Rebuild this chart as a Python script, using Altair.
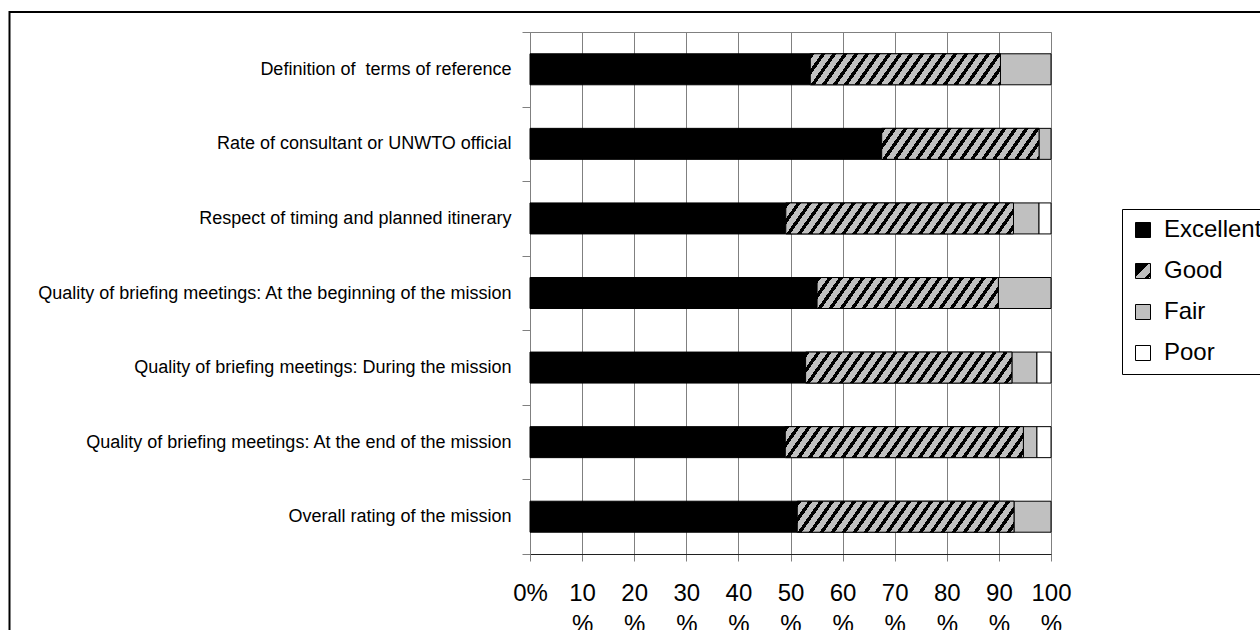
import altair as alt
import pandas as pd

# ---------------- data ----------------
categories = [
    "Definition of\u00a0 terms of reference",
    "Rate of consultant or UNWTO official",
    "Respect of timing and planned itinerary\u00a0",
    "Quality of briefing meetings: At the beginning of the mission",
    "Quality of briefing meetings: During the mission\u00a0",
    "Quality of briefing meetings: At the end of the mission",
    "Overall rating of the mission",
]
ratings = ["Excellent", "Good", "Fair", "Poor"]
excellent = [53.8, 67.5, 49.1, 55.1, 52.9, 49.0, 51.3]
good = [36.5, 30.2, 43.7, 34.8, 39.6, 45.7, 41.6]
fair = [9.7, 2.3, 4.9, 10.1, 4.8, 2.6, 7.1]
poor = [0.0, 0.0, 2.3, 0.0, 2.7, 2.7, 0.0]
x_ticks = [0, 10, 20, 30, 40, 50, 60, 70, 80, 90, 100]

rows = []
for i, c in enumerate(categories):
    for j, (r, vals) in enumerate(zip(ratings, [excellent, good, fair, poor])):
        rows.append({"category": c, "rating": r, "order": j, "value": vals[i]})
df = pd.DataFrame(rows)

# ---------------- layout / style ----------------
PLOT_W, PLOT_H = 521, 522
BAR_H = 31
FONT = "Liberation Sans"
DARK = "#000000"
LIGHT = "#c0c0c0"


def hatch_gradient(value, period=11.0, slope=0.7, dark_frac=0.38):
    """Diagonal '/' stripes as a hard-stop linear gradient (bbox units)."""
    w = value / 100.0 * PLOT_W
    h = BAR_H
    k = slope * h / w
    a = (1 + k) / (1 + k * k)
    b = a * k
    n = (w + slope * h) / period
    stops = []
    i = 0
    while i < n:
        o0 = min(i / n, 1.0)
        o1 = min((i + dark_frac) / n, 1.0)
        o2 = min((i + 1) / n, 1.0)
        stops += [
            {"offset": o0, "color": DARK},
            {"offset": o1, "color": DARK},
            {"offset": o1, "color": LIGHT},
            {"offset": o2, "color": LIGHT},
        ]
        i += 1
    return {"gradient": "linear", "x1": 0, "y1": 0, "x2": a, "y2": b, "stops": stops}


legend_good = {
    "expr": "{gradient: 'linear', x1: 0, y1: 0, x2: 1, y2: 1, stops: ["
    "{offset: 0, color: '#000000'}, {offset: 0.45, color: '#000000'},"
    "{offset: 0.45, color: '#c0c0c0'}, {offset: 0.78, color: '#c0c0c0'},"
    "{offset: 0.78, color: '#000000'}, {offset: 0.9, color: '#000000'},"
    "{offset: 0.9, color: '#c0c0c0'}, {offset: 1, color: '#c0c0c0'}]}"
}

base = alt.Chart(df).transform_stack(
    stack="value",
    groupby=["category"],
    as_=["x0", "x1"],
    sort=[alt.SortField("order", order="ascending")],
).transform_filter("datum.value > 0")

y_enc = alt.Y(
    "category:N",
    sort=categories,
    title=None,
    scale=alt.Scale(paddingInner=0, paddingOuter=0),
    axis=alt.Axis(
        tickBand="extent",
        domainColor="#808080",
        tickColor="#808080",
        tickSize=8,
        labelPadding=11,
        labelFont=FONT,
        labelFontSize=18,
        labelColor="black",
        labelLimit=700,
        grid=False,
    ),
)

x_enc = alt.X(
    "x0:Q",
    title=None,
    scale=alt.Scale(domain=[0, 100], nice=False, zero=True),
    axis=alt.Axis(
        values=x_ticks,
        labelExpr="datum.value == 0 ? '0%' : [format(datum.value, 'd'), '%']",
        grid=True,
        gridColor="#808080",
        domainColor="#202020",
        tickColor="#808080",
        tickSize=7,
        labelPadding=20,
        labelFont=FONT,
        labelFontSize=24,
        labelLineHeight=31,
        labelColor="black",
        labelFlush=False,
        labelOverlap=False,
    ),
)

bars = base.mark_bar(stroke="black", strokeWidth=1, height=BAR_H).encode(
    x=x_enc,
    x2="x1:Q",
    y=y_enc,
    color=alt.Color(
        "rating:N",
        sort=ratings,
        scale=alt.Scale(domain=ratings, range=["#000000", legend_good, LIGHT, "#ffffff"]),
        legend=alt.Legend(
            title=None,
            orient="none",
            legendX=592,
            legendY=177,
            strokeColor="black",
            fillColor="white",
            padding=9,
            labelFont=FONT,
            labelFontSize=24,
            labelColor="black",
            labelLimit=300,
            labelOffset=9,
            symbolType="square",
            symbolSize=225,
            symbolStrokeColor="black",
            symbolStrokeWidth=1,
            rowPadding=17,
        ),
    ),
)

hatch_layers = []
for i, c in enumerate(categories):
    hatch_layers.append(
        base.transform_filter(alt.FieldEqualPredicate(field="category", equal=c))
        .transform_filter("datum.rating == 'Good'")
        .mark_bar(fill=hatch_gradient(good[i]), stroke="black", strokeWidth=1, height=BAR_H)
        .encode(x=x_enc, x2="x1:Q", y=y_enc)
    )

frame = alt.Chart(alt.Data(values=[{"k": 1}])).mark_rect(
    filled=False, stroke="black", strokeWidth=2
).encode(
    x=alt.value(-520.5), x2=alt.value(1500), y=alt.value(-20), y2=alt.value(1200)
)

chart = (
    alt.layer(frame, bars, *hatch_layers)
    .properties(
        width=PLOT_W,
        height=PLOT_H,
        autosize=alt.AutoSizeParams(type="none"),
        padding={"left": 530, "top": 32, "right": 209, "bottom": 76},
        background="white",
    )
    .configure_view(stroke="#808080", strokeWidth=1)
)

chart.save("out.html", embed_options={"renderer": "svg", "actions": False})
